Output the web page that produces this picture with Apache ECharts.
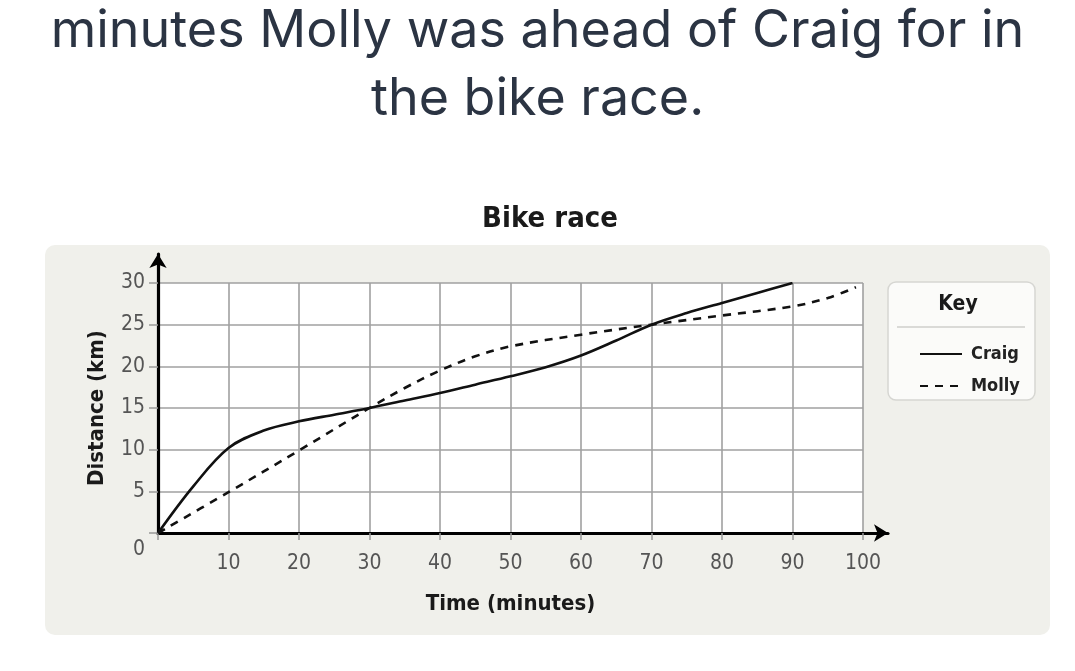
<!DOCTYPE html>
<html>
<head>
<meta charset="utf-8">
<script src="https://cdn.jsdelivr.net/npm/echarts@6/dist/echarts.min.js"></script>
<style>
html,body{margin:0;padding:0;background:#fff;}
#chart{width:1075px;height:671px;}
</style>
</head>
<body>
<div id="chart"></div>
<script>
// ---- data ----
var craigMinutes = [0, 5, 10, 15, 20, 25, 30, 35, 40, 45, 50, 55, 60, 65, 70, 75, 80, 85, 90];
var craigKm      = [0, 5.6, 10.2, 12.3, 13.4, 14.2, 15, 15.9, 16.8, 17.8, 18.8, 19.9, 21.3, 23.1, 25, 26.4, 27.6, 28.8, 30];
var mollyMinutes = [0, 10, 20, 30, 35, 40, 45, 50, 60, 70, 80, 90, 95, 99];
var mollyKm      = [0, 4.9, 9.9, 15, 17.4, 19.5, 21.2, 22.4, 23.8, 25, 26.1, 27.2, 28.2, 29.5];
var xTicks = [0, 10, 20, 30, 40, 50, 60, 70, 80, 90, 100];
var yTicks = [0, 5, 10, 15, 20, 25, 30];

var narrow = '"Liberation Sans Narrow", "DejaVu Sans Condensed", "Liberation Sans", sans-serif';

function pairs(xs, ys) { return xs.map(function (x, i) { return [x, ys[i]]; }); }

var chart = echarts.init(document.getElementById('chart'));
chart.setOption({
  backgroundColor: '#ffffff',
  animation: false,
  title: [
    {
      text: 'minutes Molly was ahead of Craig for in\nthe bike race.',
      left: 'center', top: -8,
      textStyle: { fontFamily: 'Inter, "Noto Sans", sans-serif', fontWeight: 'normal', fontSize: 52, lineHeight: 68, color: '#2b3443' }
    },
    {
      text: 'Bike race',
      left: 545, top: 200, textAlign: 'center',
      textStyle: { fontFamily: narrow, fontWeight: 'bold', fontSize: 29, color: '#1a1a1a' }
    }
  ],
  graphic: [
    { type: 'rect', z: -10, shape: { x: 45, y: 245, width: 1005, height: 390, r: 10 }, style: { fill: '#f0f0eb' } },
    { type: 'rect', z: 1, shape: { x: 888, y: 282, width: 147, height: 118, r: 8 }, style: { fill: '#fbfbf9', stroke: '#d6d6d2', lineWidth: 1.5 } },
    { type: 'text', z: 2, style: { x: 958, y: 305, text: 'Key', textAlign: 'center', textVerticalAlign: 'middle', font: 'bold 21px ' + narrow, fill: '#1a1a1a' } },
    { type: 'line', z: 2, shape: { x1: 897, y1: 327, x2: 1025, y2: 327 }, style: { stroke: '#cfcfcb', lineWidth: 1.5 } }
  ],
  legend: {
    orient: 'vertical', left: 914, top: 340, itemWidth: 42, itemHeight: 14, itemGap: 14,
    itemStyle: { opacity: 0 },
    textStyle: { fontFamily: narrow, fontWeight: 'bold', fontSize: 18, color: '#222', padding: [0, 0, 0, 4] },
    data: ['Craig', 'Molly']
  },
  grid: [
    { left: 158, right: 212, top: 283, bottom: 138, show: true, backgroundColor: '#ffffff', borderWidth: 0, containLabel: false },
    { left: 158, right: 187, top: 254, bottom: 138, show: false, containLabel: false }
  ],
  xAxis: [
    {
      type: 'value', gridIndex: 0, min: 0, max: 100, interval: 10,
      name: 'Time (minutes)', nameLocation: 'middle', nameGap: 60,
      nameTextStyle: { fontFamily: narrow, fontWeight: 'bold', fontSize: 22, color: '#1a1a1a' },
      axisLine: { show: false },
      axisTick: { show: true, length: 7, lineStyle: { color: '#999', width: 1.5 } },
      axisLabel: { margin: 20, fontFamily: narrow, fontSize: 21, color: '#555',
        formatter: function (v) { return v === 0 ? '' : String(v); } },
      splitLine: { show: true, lineStyle: { color: '#a0a0a0', width: 1.6 } }
    },
    {
      type: 'value', gridIndex: 1, min: 0, max: 1,
      axisLine: { show: true, symbol: ['none', 'arrow'], symbolSize: [13, 14], lineStyle: { color: '#000', width: 3.2 } },
      axisTick: { show: false }, axisLabel: { show: false }, splitLine: { show: false }
    }
  ],
  yAxis: [
    {
      type: 'value', gridIndex: 0, min: 0, max: 30, interval: 5,
      name: 'Distance (km)', nameLocation: 'middle', nameGap: 50, nameRotate: 90,
      nameTextStyle: { fontFamily: narrow, fontWeight: 'bold', fontSize: 22, color: '#1a1a1a' },
      axisLine: { show: false },
      axisTick: { show: true, length: 9, lineStyle: { color: '#999', width: 1.5 } },
      axisLabel: { margin: 13, fontFamily: narrow, fontSize: 21, color: '#555',
        formatter: function (v) { return v === 0 ? '{z|0}' : String(v); },
        rich: { z: { padding: [34, 0, 0, 0], fontFamily: narrow, fontSize: 21, color: '#555' } } },
      splitLine: { show: true, lineStyle: { color: '#a0a0a0', width: 1.6 } }
    },
    {
      type: 'value', gridIndex: 1, min: 0, max: 1,
      axisLine: { show: true, symbol: ['none', 'arrow'], symbolSize: [13, 14], lineStyle: { color: '#000', width: 3.2 } },
      axisTick: { show: false }, axisLabel: { show: false }, splitLine: { show: false }
    }
  ],
  series: [
    {
      name: 'Craig', type: 'line', xAxisIndex: 0, yAxisIndex: 0, smooth: 0.35,
      symbol: 'none', data: pairs(craigMinutes, craigKm),
      lineStyle: { color: '#111', width: 2.6, type: 'solid' }, itemStyle: { color: '#111' }, z: 5
    },
    {
      name: 'Molly', type: 'line', xAxisIndex: 0, yAxisIndex: 0, smooth: 0.35,
      symbol: 'none', data: pairs(mollyMinutes, mollyKm),
      lineStyle: { color: '#111', width: 2.6, type: [8, 7] }, itemStyle: { color: '#111' }, z: 5
    }
  ]
});
</script>
</body>
</html>
